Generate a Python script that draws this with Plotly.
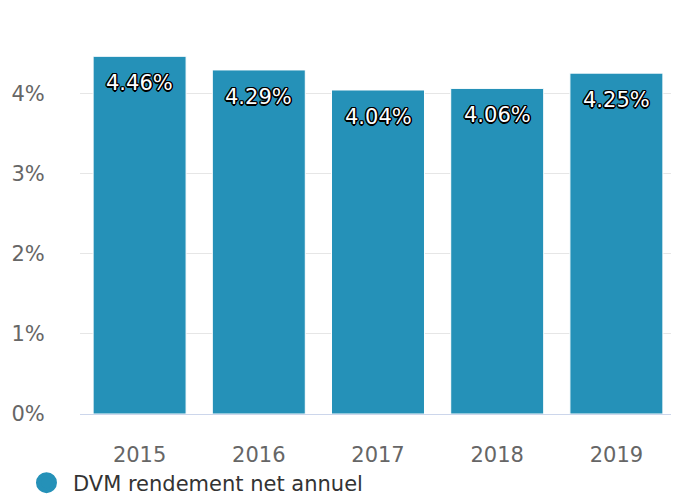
import plotly.graph_objects as go

years = [2015, 2016, 2017, 2018, 2019]
year_labels = ["2015", "2016", "2017", "2018", "2019"]
values = [4.46, 4.29, 4.04, 4.06, 4.25]
labels = ["4.46%", "4.29%", "4.04%", "4.06%", "4.25%"]
y_ticks = [0, 1, 2, 3, 4, 5]
y_tick_text = ["0%", "1%", "2%", "3%", "4%", "5%"]
series_name = "DVM rendement net annuel"

color = "#2591b8"
font = "DejaVu Sans"

fig = go.Figure()
fig.add_trace(go.Bar(
    x=years, y=values, marker=dict(color=color, line=dict(color="#ffffff", width=1)),
    showlegend=False, hoverinfo="skip",
))
fig.add_trace(go.Scatter(
    x=[years[0]], y=[None], mode="markers", name=series_name,
    marker=dict(color=color, size=24, symbol="circle", line=dict(color=color, width=5)),
))
for yr, v, t in zip(years, values, labels):
    fig.add_annotation(
        x=yr, y=v, text=t, showarrow=False, yshift=-27,
        font=dict(family=font, size=21, color="#ffffff",
                  shadow="-1px -1px 0 #000, 1px -1px 0 #000, -1px 1px 0 #000, 1px 1px 0 #000, 0 1.5px 0 #000, 0 -1.5px 0 #000, 1.5px 0 0 #000, -1.5px 0 0 #000"),
    )

fig.update_layout(
    width=679, height=502,
    margin=dict(l=72, r=11, t=5, b=96, autoexpand=False),
    paper_bgcolor="#ffffff", plot_bgcolor="#ffffff",
    bargap=0.22,
    font=dict(family=font, color="#666666", size=21),
    legend=dict(orientation="h", x=-0.1007, xanchor="left", y=-0.121, yanchor="top",
                itemwidth=43,
                font=dict(family=font, size=21, color="#333333"), itemsizing="trace"),
    xaxis=dict(type="linear", range=[years[0] - 0.5, years[-1] + 0.5],
               tickvals=years, ticktext=year_labels, automargin=False,
               showline=True, linecolor="#ccd6eb", linewidth=1, showgrid=False, zeroline=False,
               ticks="outside", ticklen=22, tickcolor="rgba(0,0,0,0)",
               tickfont=dict(size=21, color="#666666")),
    yaxis=dict(range=[0, 5], tickvals=y_ticks, ticktext=y_tick_text, showgrid=True,
               gridcolor="#e6e6e6", gridwidth=1, zeroline=False, showline=False, automargin=False,
               ticks="outside", ticklen=30, tickcolor="rgba(0,0,0,0)",
               tickfont=dict(size=21, color="#666666")),
)
fig.write_html("out.html")
